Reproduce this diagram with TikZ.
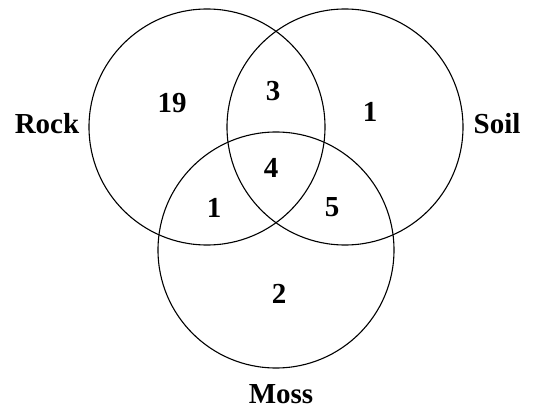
\documentclass[tikz,border=0pt]{standalone}
\usepackage{fontspec}
\setmainfont{Liberation Serif}
\begin{document}
\begin{tikzpicture}[x=1pt,y=-1pt,
  setc/.style={draw=black,line width=1.1pt,circle,minimum size=236pt,inner sep=0pt},
  lab/.style={font=\fontsize{29}{29}\selectfont\bfseries,inner sep=0pt}]
\useasboundingbox (0,0) rectangle (546,412);
\node[setc] (rock) at (207,127) {};
\node[setc] (soil) at (345,127) {};
\node[setc] (moss) at (276,250) {};
\node[lab] (lrock) at (47,124) {Rock};
\node[lab] (lsoil) at (497,124) {Soil};
\node[lab] (lmoss) at (281,394) {Moss};
\node[lab] (n19) at (172,103) {19};
\node[lab] (n3) at (273,91) {3};
\node[lab] (n1a) at (370,112) {1};
\node[lab] (n4) at (271,168) {4};
\node[lab] (n1b) at (214,208) {1};
\node[lab] (n5) at (332,207) {5};
\node[lab] (n2) at (279,294) {2};
\end{tikzpicture}
\end{document}
